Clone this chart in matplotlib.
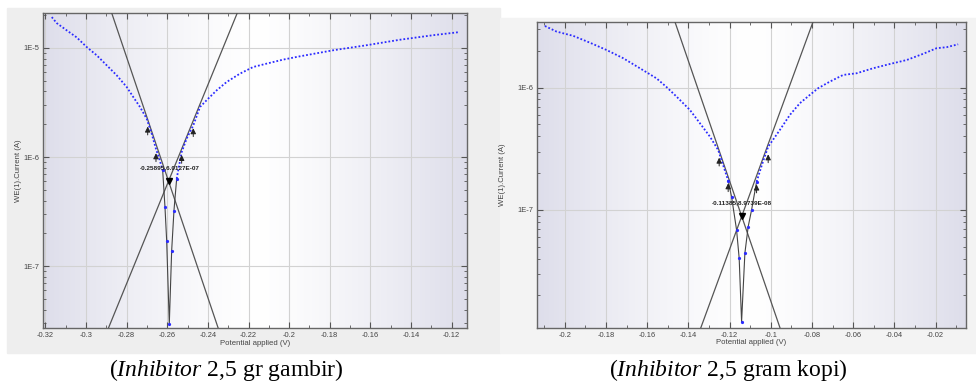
import numpy as np
import matplotlib.pyplot as plt
from matplotlib.patches import Rectangle
from matplotlib.ticker import LogLocator, MultipleLocator, FuncFormatter, NullFormatter

plt.rcParams['font.family'] = ['Liberation Sans', 'DejaVu Sans']
plt.rcParams['axes.unicode_minus'] = False
plt.rcParams['mathtext.fontset'] = 'custom'
plt.rcParams['mathtext.rm'] = 'Liberation Serif'
plt.rcParams['mathtext.it'] = 'Liberation Serif:italic'

# ---- gambir (left panel): potential (V), current (A) ----
gambir_cath_e = [-0.31685, -0.31439, -0.30947, -0.30456, -0.29964, -0.29472, -0.28980,
                 -0.28488, -0.27996, -0.27671, -0.27342, -0.27012, -0.26766, -0.26555,
                 -0.26392, -0.26225]
gambir_cath_i = [1.92e-5, 1.69e-5, 1.45e-5, 1.25e-5, 1.02e-5, 8.57e-6, 6.94e-6,
                 5.62e-6, 4.39e-6, 3.55e-6, 2.88e-6, 2.25e-6, 1.64e-6, 1.19e-6,
                 9.67e-7, 7.55e-7]
gambir_v_e = [-0.26225, -0.26112, -0.26029, -0.25900, -0.25783, -0.25670, -0.25537]
gambir_v_i = [7.55e-7, 3.48e-7, 1.72e-7, 2.96e-8, 1.39e-7, 3.24e-7, 6.34e-7]
gambir_anod_e = [-0.25537, -0.25291, -0.25045, -0.24720, -0.24389, -0.23982, -0.23569,
                 -0.23077, -0.22423, -0.21769, -0.21110, -0.20293, -0.19472, -0.17834,
                 -0.16191, -0.14553, -0.12915, -0.11602]
gambir_anod_i = [6.34e-7, 1.11e-6, 1.48e-6, 1.95e-6, 2.88e-6, 3.44e-6, 4.09e-6,
                 4.88e-6, 5.82e-6, 6.70e-6, 7.19e-6, 7.83e-6, 8.39e-6, 9.53e-6,
                 1.06e-5, 1.19e-5, 1.31e-5, 1.40e-5]
gambir_tafel_c_e = [-0.2873, -0.2349]
gambir_tafel_c_i = [2.08e-5, 2.7e-8]
gambir_tafel_a_e = [-0.2890, -0.2256]
gambir_tafel_a_i = [2.7e-8, 2.08e-5]
gambir_arrow_e = [-0.26963, -0.26555, -0.25291, -0.24720]
gambir_arrow_i = [2.02e-6, 1.15e-6, 1.11e-6, 1.95e-6]
gambir_ecorr, gambir_icorr = -0.25895, 6.0127e-7
gambir_label = "-0.25895,6.0127E-07"

# ---- kopi (right panel) ----
kopi_cath_e = [-0.20971, -0.20403, -0.19597, -0.18786, -0.17976, -0.17170, -0.16359,
               -0.15549, -0.15063, -0.14578, -0.13932, -0.13447, -0.12961, -0.12558,
               -0.12073]
kopi_cath_i = [3.19e-6, 2.87e-6, 2.65e-6, 2.33e-6, 2.03e-6, 1.74e-6, 1.44e-6,
               1.19e-6, 1.01e-6, 8.44e-7, 6.57e-7, 5.12e-7, 3.98e-7, 3.09e-7,
               1.74e-7]
kopi_v_e = [-0.12073, -0.11908, -0.11665, -0.11539, -0.11422, -0.11262, -0.11102,
            -0.10937, -0.10694]
kopi_v_i = [1.74e-7, 1.28e-7, 6.86e-8, 4.03e-8, 1.22e-8, 4.43e-8, 7.30e-8,
            1.0e-7, 1.70e-7]
kopi_anod_e = [-0.10694, -0.10437, -0.10131, -0.09563, -0.09078, -0.08592, -0.08107,
               -0.07704, -0.07136, -0.06490, -0.05840, -0.05034, -0.04223, -0.03413,
               -0.02607, -0.01956, -0.01471, -0.00908]
kopi_anod_i = [1.70e-7, 2.33e-7, 3.29e-7, 4.51e-7, 5.98e-7, 7.46e-7, 8.72e-7,
               9.89e-7, 1.12e-6, 1.27e-6, 1.31e-6, 1.44e-6, 1.56e-6, 1.68e-6,
               1.89e-6, 2.10e-6, 2.14e-6, 2.26e-6]
kopi_tafel_c_e = [-0.1466, -0.0956]
kopi_tafel_c_i = [3.46e-6, 1.09e-8]
kopi_tafel_a_e = [-0.1340, -0.0795]
kopi_tafel_a_i = [1.09e-8, 3.46e-6]
kopi_arrow_e = [-0.12510, -0.12073, -0.10694, -0.10131]
kopi_arrow_i = [2.82e-7, 1.74e-7, 1.70e-7, 3.00e-7]
kopi_ecorr, kopi_icorr = -0.11416, 8.88e-8
kopi_label = "-0.11385,8.9739E-08"

captions = [r"($\mathit{Inhibitor}$ 2,5 gr gambir)", r"($\mathit{Inhibitor}$ 2,5 gram kopi)"]

fig = plt.figure(figsize=(9.76, 3.83), dpi=100)
fig.patches.append(Rectangle((0.0075, 0.078), 0.505, 0.901, transform=fig.transFigure,
                             color='#eeeeee', zorder=-10))
fig.patches.append(Rectangle((0.5125, 0.078), 0.4875, 0.875, transform=fig.transFigure,
                             color='#f3f3f3', zorder=-10))

ax1 = fig.add_axes([0.0444, 0.1428, 0.4344, 0.8225])
ax2 = fig.add_axes([0.5505, 0.1444, 0.4392, 0.7990])


def gradient(ax):
    u = np.linspace(0, 1, 256)
    t = np.abs(2 * u - 1) ** 1.3
    edge = np.array([0.87, 0.87, 0.92])
    img = (1 - t)[:, None] * np.ones(3) + t[:, None] * edge
    ax.imshow(img[None, :, :], extent=[0, 1, 0, 1], transform=ax.transAxes,
              aspect='auto', zorder=0, interpolation='bilinear')


def panel(ax, xlim, ylim, cath, vee, anod, tc, ta, arrows, ecorr, icorr, label, ylab_x):
    ax.set_yscale('log')
    ax.set_xlim(xlim)
    ax.set_ylim(ylim)
    gradient(ax)
    ax.set_xlim(xlim)
    ax.set_ylim(ylim)

    ax.xaxis.set_major_locator(MultipleLocator(0.02))
    ax.xaxis.set_minor_locator(MultipleLocator(0.01))
    ax.xaxis.set_major_formatter(FuncFormatter(lambda v, p: f"{round(v, 4):g}"))
    ax.yaxis.set_major_locator(LogLocator(base=10))
    ax.yaxis.set_minor_locator(LogLocator(base=10, subs=np.arange(2, 10)))
    ax.yaxis.set_major_formatter(FuncFormatter(lambda v, p: f"1E{int(round(np.log10(v)))}"))
    ax.yaxis.set_minor_formatter(NullFormatter())
    ax.tick_params(which='both', direction='in', top=True, right=True,
                   colors='#555555', labelcolor='#444444', labelsize=5.4, pad=3)
    ax.tick_params(which='major', length=4, width=0.8)
    ax.tick_params(which='minor', length=2, width=0.6)
    ax.grid(True, which='major', color='#d2d2d2', lw=0.8, zorder=1)
    for s in ax.spines.values():
        s.set_color('#666666')
        s.set_linewidth(1.0)

    ax.plot(tc[0], tc[1], color='#555555', lw=0.9, zorder=3)
    ax.plot(ta[0], ta[1], color='#555555', lw=0.9, zorder=3)

    ax.plot(vee[0], vee[1], color='#444444', lw=0.8, zorder=4,
            marker='o', ms=1.3, mfc='#2b2bff', mec='#2b2bff')
    for br in (cath, anod):
        ax.plot(br[0], br[1], color='#2b2bff', lw=1.3, ls=(0, (1, 1.1)), zorder=4)

    for e, i in zip(*arrows):
        ax.annotate('', xy=(e, i), xytext=(0, -10), textcoords='offset points',
                    arrowprops=dict(arrowstyle='-|>', color='#222222', lw=0.7,
                                    mutation_scale=8), zorder=6)
    ax.plot([ecorr], [icorr], marker='v', color='black', ms=4.5, zorder=6)
    ax.annotate(label, xy=(ecorr, icorr), xytext=(0, 10), textcoords='offset points',
                ha='center', va='center', fontsize=4.6, fontweight='bold',
                color='#222222', zorder=7)

    ax.set_xlabel('Potential applied (V)', fontsize=5.6, color='#444444')
    ax.set_ylabel('WE(1).Current (A)', fontsize=5.6, color='#444444')
    ax.xaxis.set_label_coords(0.5, -0.037)
    ax.yaxis.set_label_coords(ylab_x, 0.5)


panel(ax1, (-0.321, -0.1123), (2.7e-8, 2.08e-5),
      (gambir_cath_e, gambir_cath_i), (gambir_v_e, gambir_v_i),
      (gambir_anod_e, gambir_anod_i),
      (gambir_tafel_c_e, gambir_tafel_c_i), (gambir_tafel_a_e, gambir_tafel_a_i),
      (gambir_arrow_e, gambir_arrow_i), gambir_ecorr, gambir_icorr, gambir_label,
      -0.051)
panel(ax2, (-0.2134, -0.0053), (1.09e-8, 3.46e-6),
      (kopi_cath_e, kopi_cath_i), (kopi_v_e, kopi_v_i),
      (kopi_anod_e, kopi_anod_i),
      (kopi_tafel_c_e, kopi_tafel_c_i), (kopi_tafel_a_e, kopi_tafel_a_i),
      (kopi_arrow_e, kopi_arrow_i), kopi_ecorr, kopi_icorr, kopi_label,
      -0.072)

fig.text(0.2316, 0.034, captions[0], ha='center', va='center', fontsize=17,
         family='Liberation Serif')
fig.text(0.746, 0.034, captions[1], ha='center', va='center', fontsize=17,
         family='Liberation Serif')

fig.savefig('out.png', dpi=100)
plt.close(fig)
